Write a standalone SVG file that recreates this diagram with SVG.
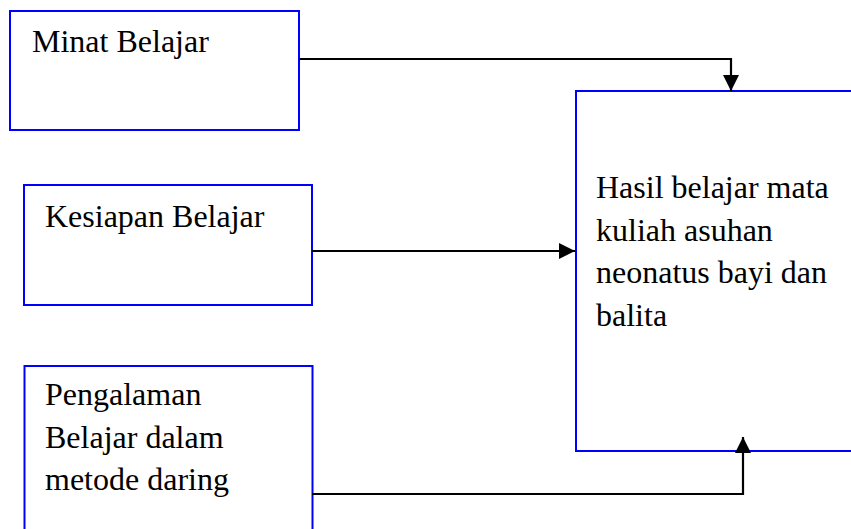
<svg xmlns="http://www.w3.org/2000/svg" width="851" height="529" viewBox="0 0 851 529">
<style>
.box{fill:#ffffff;stroke:#0000ff;stroke-width:2}
.lbl{font-family:"Liberation Serif","Times New Roman",serif;font-size:32px;fill:#000000}
.con{fill:none;stroke:#000000;stroke-width:2.2}
</style>
<defs>
<marker id="ah" markerUnits="userSpaceOnUse" markerWidth="18" markerHeight="18" viewBox="0 0 18 18" refX="16" refY="9" orient="auto">
<path d="M0,1 L16,9 L0,17 Z" fill="#000000"/>
</marker>
</defs>
<g id="node-minat">
<rect class="box" x="10" y="11" width="289" height="119"/>
<text class="lbl" x="32" y="52">Minat Belajar</text>
</g>
<g id="node-kesiapan">
<rect class="box" x="24" y="185" width="288" height="120"/>
<text class="lbl" x="45" y="227">Kesiapan Belajar</text>
</g>
<g id="node-pengalaman">
<rect class="box" x="24.5" y="366" width="288" height="180"/>
<text class="lbl" x="45" y="405">Pengalaman</text>
<text class="lbl" x="45" y="447.5">Belajar dalam</text>
<text class="lbl" x="45" y="490">metode daring</text>
</g>
<g id="node-hasil">
<rect class="box" x="576" y="91" width="300" height="360"/>
<text class="lbl" x="596" y="198">Hasil belajar mata</text>
<text class="lbl" x="596" y="240.5">kuliah asuhan</text>
<text class="lbl" x="596" y="283">neonatus bayi dan</text>
<text class="lbl" x="596" y="325.5">balita</text>
</g>
<g id="connectors">
<path class="con" d="M299,59 H731 V91" marker-end="url(#ah)"/>
<path class="con" d="M312,251 H575" marker-end="url(#ah)"/>
<path class="con" d="M312,494 H743 V437" marker-end="url(#ah)"/>
</g>
</svg>
